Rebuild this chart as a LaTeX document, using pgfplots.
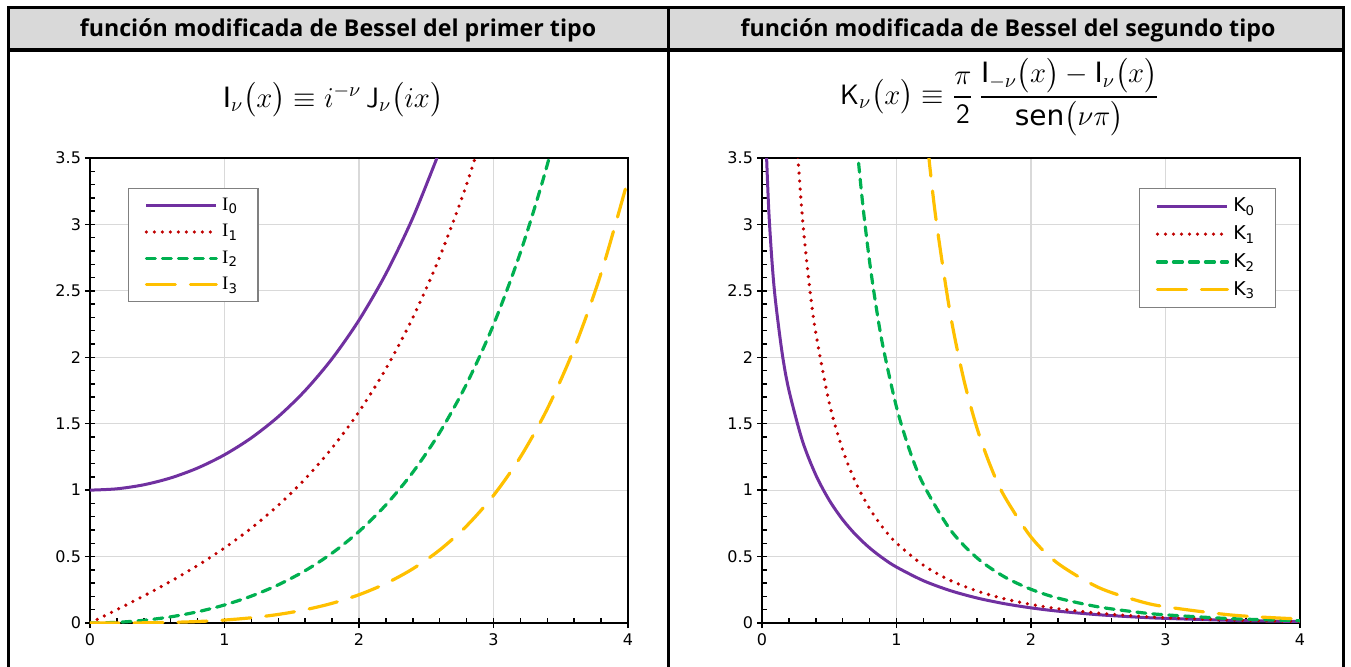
\documentclass[border=0pt]{standalone}
\usepackage{fontspec}
\setmainfont{DejaVu Sans}
\newfontfamily\headfont{Open Sans}
\newfontfamily\serifI{Liberation Serif}
\usepackage{amsmath}
\usepackage{pgfplots}
\pgfplotsset{compat=1.18}

\definecolor{cP}{HTML}{7030A0}
\definecolor{cR}{HTML}{C00000}
\definecolor{cG}{HTML}{00B050}
\definecolor{cY}{HTML}{FFC000}
\definecolor{hdr}{HTML}{D9D9D9}
\definecolor{gridc}{HTML}{D9D9D9}

\pgfplotsset{
  besselax/.style={
    scale only axis, width=269pt, height=232.5pt,
    xmin=0, xmax=4, ymin=0, ymax=3.5,
    xtick={0,1,2,3,4}, ytick={0,0.5,1,1.5,2,2.5,3,3.5},
    minor x tick num=4, minor y tick num=4,
    tick pos=left, tick align=inside,
    major tick length=5pt, minor tick length=2.5pt,
    every major x tick/.append style={yshift=-2.5pt},
    every major y tick/.append style={xshift=-2.5pt},
    tick style={black, line width=0.75pt},
    axis line style={black, line width=1pt},
    grid=major, major grid style={gridc, line width=0.6pt},
    ticklabel style={font=\fontsize{8}{9}\selectfont},
    xticklabel style={yshift=-2pt},
    yticklabel style={xshift=-1pt},
    /pgf/number format/assume math mode=true,
    legend style={draw=gray, line width=0.6pt, fill=white,
      font=\fontsize{9.5}{10}\selectfont, row sep=1.5pt,
      inner xsep=8pt, inner ysep=2.5pt, cells={anchor=west}},
    legend image code/.code={\draw[##1] (0pt,0pt) -- (35pt,0pt);},
  },
  sP/.style={cP, line width=1.5pt, smooth},
  sR/.style={cR, line width=1.8pt, smooth, line cap=round, dash pattern=on 0pt off 4pt},
  sG/.style={cG, line width=1.6pt, smooth, line cap=round, dash pattern=on 4.5pt off 3.5pt},
  sY/.style={cY, line width=1.6pt, smooth, line cap=round, dash pattern=on 14.5pt off 7.5pt},
}

\begin{document}
\begin{tikzpicture}
\begin{scope}[x=0.5pt, y=0.5pt]
\useasboundingbox (0,0) rectangle (1351,666);
% table frame
\fill[hdr] (8,616) rectangle (1343,658);
\draw[black, line width=1.5pt] (8,-5) -- (8,658) -- (1343,658) -- (1343,-5);
\draw[black, line width=1.5pt] (8,616) -- (1343,616);
\draw[black, line width=1.5pt] (668,-5) -- (668,658);

\node at (338,636) {\headfont\bfseries\fontsize{11.6}{13}\selectfont función modificada de Bessel del primer tipo};
\node at (1008,636) {\headfont\bfseries\fontsize{11.6}{13}\selectfont función modificada de Bessel del segundo tipo};

\node at (333,566) {\fontsize{14}{16}\selectfont
  $\mathrm{I}_{\nu}\bigl(x\bigr)\equiv i^{-\nu}\,\mathsf{J}_{\nu}\bigl(ix\bigr)$};
\node at (1000,569) {\fontsize{14}{16}\selectfont
  $\mathsf{K}_{\nu}\bigl(x\bigr)\equiv\dfrac{\pi}{\mathsf{2}}\,
   \dfrac{\mathrm{I}_{-\nu}\bigl(x\bigr)-\mathrm{I}_{\nu}\bigl(x\bigr)}{\mathrm{sen}\bigl(\nu\pi\bigr)}$};
\end{scope}

% left panel: modified Bessel functions of the first kind
\begin{axis}[besselax, at={(45pt,21.5pt)}, anchor=south west,
  legend style={at={(0.0706,0.935)}, anchor=north west}]
\addplot[sP] coordinates {
  (0,1) (0.2,1.0100) (0.4,1.0404) (0.6,1.0920) (0.8,1.1665) (1.0,1.2661)
  (1.2,1.3937) (1.4,1.5534) (1.6,1.7500) (1.8,1.9896) (2.0,2.2796)
  (2.2,2.6291) (2.4,3.0493) (2.6,3.5533)
};
\addplot[sR] coordinates {
  (0,0) (0.2,0.1005) (0.4,0.2040) (0.6,0.3137) (0.8,0.4329) (1.0,0.5652)
  (1.2,0.7147) (1.4,0.8861) (1.6,1.0848) (1.8,1.3172) (2.0,1.5906)
  (2.2,1.9141) (2.4,2.2981) (2.6,2.7554) (2.8,3.3011) (3.0,3.9534)
};
\addplot[sG] coordinates {
  (0,0) (0.2,0.0050) (0.4,0.0203) (0.6,0.0464) (0.8,0.0844) (1.0,0.1357)
  (1.2,0.2026) (1.4,0.2875) (1.6,0.3940) (1.8,0.5260) (2.0,0.6889)
  (2.2,0.8891) (2.4,1.1342) (2.6,1.4337) (2.8,1.7994) (3.0,2.2452)
  (3.2,2.7884) (3.4,3.4495) (3.6,4.2540)
};
\addplot[sY] coordinates {
  (0,0) (0.2,0.0002) (0.4,0.0013) (0.6,0.0046) (0.8,0.0111) (1.0,0.0222)
  (1.2,0.0394) (1.4,0.0645) (1.6,0.0999) (1.8,0.1482) (2.0,0.2127)
  (2.2,0.2976) (2.4,0.4079) (2.6,0.5496) (2.8,0.7305) (3.0,0.9598)
  (3.2,1.2489) (3.4,1.6119) (3.6,2.0662) (3.8,2.6326) (4.0,3.3373)
};
\legend{{\serifI I}\textsubscript{0}, {\serifI I}\textsubscript{1},
        {\serifI I}\textsubscript{2}, {\serifI I}\textsubscript{3}}
\end{axis}

% right panel: modified Bessel functions of the second kind
\begin{axis}[besselax, at={(381pt,21.5pt)}, anchor=south west,
  legend style={at={(0.955,0.935)}, anchor=north east}]
\addplot[sP] coordinates {
  (0.02,4.0285) (0.03,3.6235) (0.05,3.1142) (0.075,2.7114) (0.1,2.4271)
  (0.15,2.0300) (0.2,1.7527) (0.3,1.3725) (0.4,1.1145) (0.5,0.9244)
  (0.6,0.7775) (0.7,0.6605) (0.8,0.5653) (0.9,0.4867) (1.0,0.4210)
  (1.2,0.3185) (1.4,0.2437) (1.6,0.1880) (1.8,0.1459) (2.0,0.1139)
  (2.2,0.0893) (2.5,0.0623) (2.8,0.0438) (3.0,0.0347) (3.5,0.0196) (4.0,0.0112)
};
\addplot[sR] coordinates {
  (0.25,3.7470) (0.3,3.0560) (0.35,2.5610) (0.4,2.1844) (0.5,1.6564)
  (0.6,1.3028) (0.7,1.0503) (0.8,0.8618) (0.9,0.7165) (1.0,0.6019)
  (1.2,0.4346) (1.4,0.3208) (1.6,0.2406) (1.8,0.1826) (2.0,0.1399)
  (2.2,0.1079) (2.5,0.0739) (2.8,0.0511) (3.0,0.0402) (3.5,0.0222) (4.0,0.0125)
};
\addplot[sG] coordinates {
  (0.65,4.3010) (0.7,3.6614) (0.75,3.1429) (0.8,2.7198) (0.85,2.3720)
  (0.9,2.0790) (1.0,1.6248) (1.1,1.2925) (1.2,1.0428) (1.4,0.7020)
  (1.6,0.4887) (1.8,0.3488) (2.0,0.2538) (2.2,0.1874) (2.5,0.1215)
  (2.8,0.0803) (3.0,0.0615) (3.5,0.0323) (4.0,0.0174)
};
\addplot[sY] coordinates {
  (1.2,3.9106) (1.25,3.4150) (1.3,2.9919) (1.4,2.3265) (1.5,1.8339)
  (1.6,1.4624) (1.7,1.1786) (1.8,0.9577) (2.0,0.6475) (2.2,0.4486)
  (2.5,0.2683) (2.8,0.1658) (3.0,0.1222) (3.5,0.0591) (4.0,0.0299)
};
\legend{K\textsubscript{0}, K\textsubscript{1}, K\textsubscript{2}, K\textsubscript{3}}
\end{axis}
\end{tikzpicture}
\end{document}
